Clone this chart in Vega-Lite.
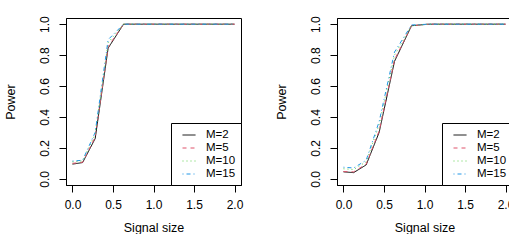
{
  "$schema": "https://vega.github.io/schema/vega-lite/v6.json",
  "padding": {"left": 3, "top": 15, "right": 0, "bottom": 0},
  "background": "white",
  "config": {
    "font": "Liberation Sans",
    "view": {"stroke": "black", "strokeWidth": 1},
    "axis": {
      "grid": false, "domainColor": "black", "tickColor": "black", "domainWidth": 1, "tickWidth": 1,
      "tickSize": 7, "labelFontSize": 12, "labelColor": "black", "titleFontSize": 12.5, "titleColor": "black",
      "titleFontWeight": "normal"
    },
    "legend": {
      "orient": "bottom-right", "offset": 0, "strokeColor": "black", "fillColor": "white",
      "padding": 5, "labelFontSize": 11.5, "labelColor": "black", "symbolType": "stroke",
      "symbolSize": 169, "symbolStrokeWidth": 1, "rowPadding": 0, "cornerRadius": 0, "title": null,
      "symbolOffset": 6, "labelOffset": 10
    }
  },
  "data": {"values": [
    {"panel": "a", "M": "M=2", "x": 0, "p": 0.095},
    {"panel": "a", "M": "M=2", "x": 0.125, "p": 0.105},
    {"panel": "a", "M": "M=2", "x": 0.28, "p": 0.26},
    {"panel": "a", "M": "M=2", "x": 0.44, "p": 0.845},
    {"panel": "a", "M": "M=2", "x": 0.63, "p": 1.0},
    {"panel": "a", "M": "M=2", "x": 0.84, "p": 1.0},
    {"panel": "a", "M": "M=2", "x": 1.05, "p": 1.0},
    {"panel": "a", "M": "M=2", "x": 1.3, "p": 1.0},
    {"panel": "a", "M": "M=2", "x": 1.6, "p": 1.0},
    {"panel": "a", "M": "M=2", "x": 2.0, "p": 1.0},
    {"panel": "a", "M": "M=5", "x": 0, "p": 0.1},
    {"panel": "a", "M": "M=5", "x": 0.125, "p": 0.107},
    {"panel": "a", "M": "M=5", "x": 0.28, "p": 0.27},
    {"panel": "a", "M": "M=5", "x": 0.44, "p": 0.855},
    {"panel": "a", "M": "M=5", "x": 0.63, "p": 1.0},
    {"panel": "a", "M": "M=5", "x": 0.84, "p": 1.0},
    {"panel": "a", "M": "M=5", "x": 1.05, "p": 1.0},
    {"panel": "a", "M": "M=5", "x": 1.3, "p": 1.0},
    {"panel": "a", "M": "M=5", "x": 1.6, "p": 1.0},
    {"panel": "a", "M": "M=5", "x": 2.0, "p": 1.0},
    {"panel": "a", "M": "M=10", "x": 0, "p": 0.11},
    {"panel": "a", "M": "M=10", "x": 0.125, "p": 0.115},
    {"panel": "a", "M": "M=10", "x": 0.28, "p": 0.29},
    {"panel": "a", "M": "M=10", "x": 0.44, "p": 0.88},
    {"panel": "a", "M": "M=10", "x": 0.63, "p": 1.0},
    {"panel": "a", "M": "M=10", "x": 0.84, "p": 1.0},
    {"panel": "a", "M": "M=10", "x": 1.05, "p": 1.0},
    {"panel": "a", "M": "M=10", "x": 1.3, "p": 1.0},
    {"panel": "a", "M": "M=10", "x": 1.6, "p": 1.0},
    {"panel": "a", "M": "M=10", "x": 2.0, "p": 1.0},
    {"panel": "a", "M": "M=15", "x": 0, "p": 0.115},
    {"panel": "a", "M": "M=15", "x": 0.125, "p": 0.12},
    {"panel": "a", "M": "M=15", "x": 0.28, "p": 0.3},
    {"panel": "a", "M": "M=15", "x": 0.44, "p": 0.9},
    {"panel": "a", "M": "M=15", "x": 0.63, "p": 1.0},
    {"panel": "a", "M": "M=15", "x": 0.84, "p": 1.0},
    {"panel": "a", "M": "M=15", "x": 1.05, "p": 1.0},
    {"panel": "a", "M": "M=15", "x": 1.3, "p": 1.0},
    {"panel": "a", "M": "M=15", "x": 1.6, "p": 1.0},
    {"panel": "a", "M": "M=15", "x": 2.0, "p": 1.0},
    {"panel": "b", "M": "M=2", "x": 0, "p": 0.045},
    {"panel": "b", "M": "M=2", "x": 0.125, "p": 0.04},
    {"panel": "b", "M": "M=2", "x": 0.28, "p": 0.09},
    {"panel": "b", "M": "M=2", "x": 0.44, "p": 0.3},
    {"panel": "b", "M": "M=2", "x": 0.63, "p": 0.76},
    {"panel": "b", "M": "M=2", "x": 0.84, "p": 0.99},
    {"panel": "b", "M": "M=2", "x": 1.05, "p": 1.0},
    {"panel": "b", "M": "M=2", "x": 1.3, "p": 1.0},
    {"panel": "b", "M": "M=2", "x": 1.6, "p": 1.0},
    {"panel": "b", "M": "M=2", "x": 2.0, "p": 1.0},
    {"panel": "b", "M": "M=5", "x": 0, "p": 0.047},
    {"panel": "b", "M": "M=5", "x": 0.125, "p": 0.045},
    {"panel": "b", "M": "M=5", "x": 0.28, "p": 0.095},
    {"panel": "b", "M": "M=5", "x": 0.44, "p": 0.31},
    {"panel": "b", "M": "M=5", "x": 0.63, "p": 0.77},
    {"panel": "b", "M": "M=5", "x": 0.84, "p": 0.99},
    {"panel": "b", "M": "M=5", "x": 1.05, "p": 1.0},
    {"panel": "b", "M": "M=5", "x": 1.3, "p": 1.0},
    {"panel": "b", "M": "M=5", "x": 1.6, "p": 1.0},
    {"panel": "b", "M": "M=5", "x": 2.0, "p": 1.0},
    {"panel": "b", "M": "M=10", "x": 0, "p": 0.065},
    {"panel": "b", "M": "M=10", "x": 0.125, "p": 0.06},
    {"panel": "b", "M": "M=10", "x": 0.28, "p": 0.11},
    {"panel": "b", "M": "M=10", "x": 0.44, "p": 0.35},
    {"panel": "b", "M": "M=10", "x": 0.63, "p": 0.8},
    {"panel": "b", "M": "M=10", "x": 0.84, "p": 0.99},
    {"panel": "b", "M": "M=10", "x": 1.05, "p": 1.0},
    {"panel": "b", "M": "M=10", "x": 1.3, "p": 1.0},
    {"panel": "b", "M": "M=10", "x": 1.6, "p": 1.0},
    {"panel": "b", "M": "M=10", "x": 2.0, "p": 1.0},
    {"panel": "b", "M": "M=15", "x": 0, "p": 0.075},
    {"panel": "b", "M": "M=15", "x": 0.125, "p": 0.07},
    {"panel": "b", "M": "M=15", "x": 0.28, "p": 0.12},
    {"panel": "b", "M": "M=15", "x": 0.44, "p": 0.37},
    {"panel": "b", "M": "M=15", "x": 0.63, "p": 0.82},
    {"panel": "b", "M": "M=15", "x": 0.84, "p": 0.995},
    {"panel": "b", "M": "M=15", "x": 1.05, "p": 1.0},
    {"panel": "b", "M": "M=15", "x": 1.3, "p": 1.0},
    {"panel": "b", "M": "M=15", "x": 1.6, "p": 1.0},
    {"panel": "b", "M": "M=15", "x": 2.0, "p": 1.0}
  ]},
  "spacing": 30,
  "resolve": {
    "scale": {"color": "independent", "strokeDash": "independent"},
    "legend": {"color": "independent", "strokeDash": "independent"}
  },
  "hconcat": [
    {
      "width": 175, "height": 167,
      "transform": [{"filter": "datum.panel === 'a'"}],
      "mark": {"type": "line", "strokeWidth": 1, "clip": true},
      "encoding": {
        "x": {"field": "x", "type": "quantitative", "scale": {"domain": [-0.08, 2.08], "nice": false, "zero": false},
              "axis": {"values": [0, 0.5, 1, 1.5, 2], "format": ".1f", "title": "Signal size", "labelPadding": 7, "titlePadding": 11}},
        "y": {"field": "p", "type": "quantitative", "scale": {"domain": [-0.04, 1.04], "nice": false, "zero": false},
              "axis": {"values": [0, 0.2, 0.4, 0.6, 0.8, 1.0], "format": ".1f", "title": "Power", "labelAngle": -90,
                       "labelAlign": "center", "labelBaseline": "bottom", "labelPadding": 8, "titlePadding": 21}},
        "color": {"field": "M", "type": "nominal",
                  "scale": {"domain": ["M=2", "M=5", "M=10", "M=15"], "range": ["black", "#DF536B", "#61D04F", "#2297E6"]}},
        "strokeDash": {"field": "M", "type": "nominal",
                  "scale": {"domain": ["M=2", "M=5", "M=10", "M=15"], "range": [[1, 0], [4, 4], [1, 3], [1, 3, 4, 3]]}}
      }
    },
    {
      "width": 175, "height": 167,
      "transform": [{"filter": "datum.panel === 'b'"}],
      "mark": {"type": "line", "strokeWidth": 1, "clip": true},
      "encoding": {
        "x": {"field": "x", "type": "quantitative", "scale": {"domain": [-0.08, 2.08], "nice": false, "zero": false},
              "axis": {"values": [0, 0.5, 1, 1.5, 2], "format": ".1f", "title": "Signal size", "labelPadding": 7, "titlePadding": 11}},
        "y": {"field": "p", "type": "quantitative", "scale": {"domain": [-0.04, 1.04], "nice": false, "zero": false},
              "axis": {"values": [0, 0.2, 0.4, 0.6, 0.8, 1.0], "format": ".1f", "title": "Power", "labelAngle": -90,
                       "labelAlign": "center", "labelBaseline": "bottom", "labelPadding": 8, "titlePadding": 21}},
        "color": {"field": "M", "type": "nominal",
                  "scale": {"domain": ["M=2", "M=5", "M=10", "M=15"], "range": ["black", "#DF536B", "#61D04F", "#2297E6"]}},
        "strokeDash": {"field": "M", "type": "nominal",
                  "scale": {"domain": ["M=2", "M=5", "M=10", "M=15"], "range": [[1, 0], [4, 4], [1, 3], [1, 3, 4, 3]]}}
      }
    }
  ]
}
